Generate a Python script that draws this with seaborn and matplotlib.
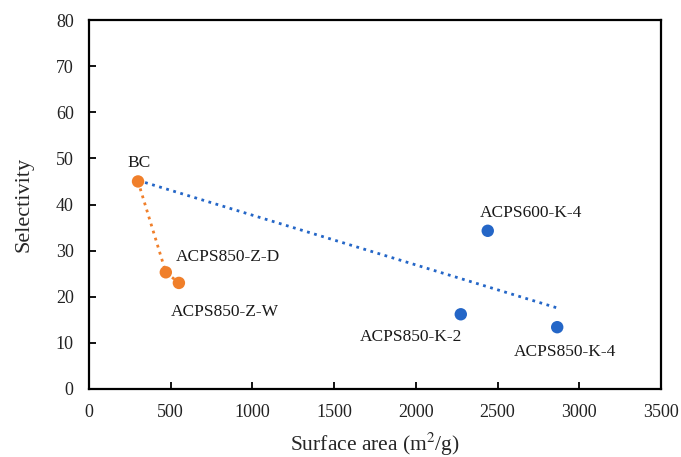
import pandas as pd
import seaborn as sns
import matplotlib.pyplot as plt

# KOH-activated samples (blue) and ZnCl2-activated samples (orange), both start from BC
k_names = ["BC", "ACPS600-K-4", "ACPS850-K-2", "ACPS850-K-4"]
k_area = [300, 2440, 2275, 2865]
k_sel = [45.0, 34.3, 16.2, 13.4]

z_names = ["BC", "ACPS850-Z-D", "ACPS850-Z-W"]
z_area = [300, 470, 550]
z_sel = [45.0, 25.3, 23.0]

blue = "#2466c7"
orange = "#f07f2a"

sns.set_style("white")
plt.rcParams["font.family"] = ["Liberation Serif", "DejaVu Serif"]
plt.rcParams["mathtext.fontset"] = "stix"

df_k = pd.DataFrame({"area": k_area, "sel": k_sel, "name": k_names})
df_z = pd.DataFrame({"area": z_area, "sel": z_sel, "name": z_names})

fig = plt.figure(figsize=(6.81, 4.57), dpi=100)
ax = fig.add_axes([0.1307, 0.1488, 0.8399, 0.8074])

# linear trend through the KOH series, dotted
sns.regplot(data=df_k, x="area", y="sel", scatter=False, ci=None, truncate=True,
            color=blue, line_kws={"linestyle": ":", "linewidth": 2.0}, ax=ax)
# ZnCl2 series joined in order
sns.lineplot(data=df_z, x="area", y="sel", sort=False, color=orange,
             linestyle=":", linewidth=2.0, ax=ax)

sns.scatterplot(data=df_k.iloc[1:], x="area", y="sel", color=blue, s=80,
                edgecolor="none", ax=ax, zorder=3)
sns.scatterplot(data=df_z, x="area", y="sel", color=orange, s=80,
                edgecolor="none", ax=ax, zorder=3)

# label offsets in points
offsets = {
    "BC": ((1, 13), "center"),
    "ACPS850-Z-D": ((7, 11), "left"),
    "ACPS850-Z-W": ((-6, -21), "left"),
    "ACPS600-K-4": ((-6, 13), "left"),
    "ACPS850-K-2": ((1, -16), "right"),
    "ACPS850-K-4": ((-31, -18), "left"),
}
points = list(zip(k_names, k_area, k_sel)) + list(zip(z_names[1:], z_area[1:], z_sel[1:]))
for name, xv, yv in points:
    off, ha = offsets[name]
    ax.annotate(name, (xv, yv), xytext=off, textcoords="offset points",
                ha=ha, va="center", fontsize=12.5, color="#1a1a1a")

ax.set_xlim(0, 3500)
ax.set_ylim(0, 80)
ax.set_xticks(range(0, 3501, 500))
ax.set_yticks(range(0, 81, 10))
ax.tick_params(axis="both", which="major", direction="in", length=5, width=1.3,
               labelsize=13, colors="black", labelcolor="#222222",
               bottom=True, left=True, top=False, right=False)
ax.tick_params(axis="x", pad=11)
ax.tick_params(axis="y", pad=11)
for sp in ax.spines.values():
    sp.set_linewidth(1.6)
    sp.set_color("black")

ax.set_xlabel("Surface area (m$^2$/g)", fontsize=15.5, labelpad=7)
ax.set_ylabel("Selectivity", fontsize=16, labelpad=16)

fig.savefig("out.png", dpi=100, facecolor="white")
